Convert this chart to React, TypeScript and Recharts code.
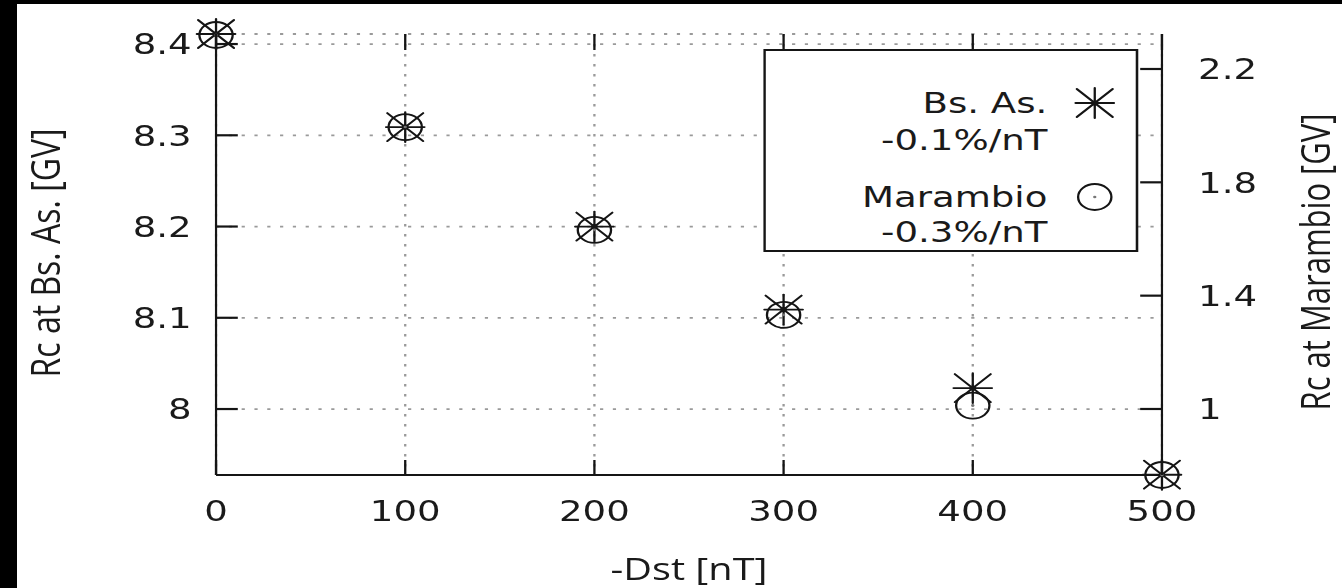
import React from "react";
import { ScatterChart, Scatter, XAxis, YAxis, CartesianGrid, Legend } from "recharts";

// values
const dst = [0, 100, 200, 300, 400, 500];
const rcBsAs = [8.411, 8.309, 8.2, 8.109, 8.023, 7.928];
const rcMarambio = [2.32, 1.995, 1.632, 1.332, 1.012, 0.767];
const xTicks = [0, 100, 200, 300, 400, 500];
const leftTicks = [8, 8.1, 8.2, 8.3, 8.4];
const rightTicks = [1, 1.4, 1.8, 2.2];
const seriesNames = ["Bs. As.", "Marambio"];
const seriesSlopes = ["-0.1%/nT", "-0.3%/nT"];

const bsData = dst.map((x, i) => ({ x, y: rcBsAs[i] }));
const marData = dst.map((x, i) => ({ x, y: rcMarambio[i] }));

// the source picture is stretched sideways
const STRETCH = 1.28;
const W = 1035;
const H = 584;
const PLOT_TOP = 30;
const INK = "#151515";
const TXT = "#1a1a1a";
const tickFont = { fontFamily: "DejaVu Sans", fontSize: 29, fill: TXT };

function StarMark({ cx, cy }: { cx: number; cy: number }) {
  const a = 15;
  const d = 14;
  return (
    <g stroke={INK} strokeWidth={1.8} strokeLinecap="round">
      <line x1={cx - a} y1={cy} x2={cx + a} y2={cy} />
      <line x1={cx} y1={cy - a} x2={cx} y2={cy + a} />
      <line x1={cx - d} y1={cy - d} x2={cx + d} y2={cy + d} />
      <line x1={cx - d} y1={cy + d} x2={cx + d} y2={cy - d} />
      <circle cx={cx} cy={cy} r={2.6} fill={INK} stroke="none" />
    </g>
  );
}

function CircleMark({ cx, cy }: { cx: number; cy: number }) {
  return (
    <g>
      <circle cx={cx} cy={cy} r={13} fill="none" stroke={INK} strokeWidth={1.8} />
      <circle cx={cx} cy={cy} r={1.3} fill="#777" />
    </g>
  );
}

// inward ticks: line drawn from the axis into the plot, label outside
const LEFT_GAP = 19;
const RIGHT_GAP = 28.2;
const BOTTOM_GAP = 25.5;

const leftTick = (p: any) => {
  const ax = p.x + LEFT_GAP;
  return (
    <g>
      <line x1={ax} y1={p.y} x2={ax + 17} y2={p.y} stroke={INK} strokeWidth={2.2} />
      <text x={p.x} y={p.y} dy="0.36em" textAnchor="end" {...tickFont}>{p.payload.value}</text>
    </g>
  );
};

const rightTick = (p: any) => {
  const ax = p.x - RIGHT_GAP;
  return (
    <g>
      <line x1={ax} y1={p.y} x2={ax - 17} y2={p.y} stroke={INK} strokeWidth={2.2} />
      <text x={p.x} y={p.y} dy="0.36em" textAnchor="start" {...tickFont}>{p.payload.value}</text>
    </g>
  );
};

// bottom ticks, mirrored on the top border as well
const bottomTick = (p: any) => {
  const ay = p.y - BOTTOM_GAP;
  return (
    <g>
      <line x1={p.x} y1={ay} x2={p.x} y2={ay - 15} stroke={INK} strokeWidth={1.8} />
      <line x1={p.x} y1={PLOT_TOP} x2={p.x} y2={PLOT_TOP + 16} stroke={INK} strokeWidth={1.8} />
      <text x={p.x} y={p.y} dy="0.71em" textAnchor="middle" {...tickFont}>{p.payload.value}</text>
    </g>
  );
};

const LW = 293;
const LH = 203;

function LegendBox(props: any) {
  const payload = props.payload && props.payload.length ? props.payload : seriesNames.map((n) => ({ value: n }));
  const rows = [
    { name: 64, slope: 101, mark: 54 },
    { name: 158, slope: 193, mark: 148 },
  ];
  return (
    <svg width={LW} height={LH} style={{ display: "block" }}>
      <rect x={1} y={1} width={LW - 2} height={LH - 2} fill="#fff" stroke={INK} strokeWidth={2} />
      {payload.map((p: any, i: number) => (
        <g key={i}>
          <text x={222} y={rows[i].name} textAnchor="end" {...tickFont}>
            {p.value}
          </text>
          <text x={222} y={rows[i].slope} textAnchor="end" {...tickFont}>
            {seriesSlopes[i]}
          </text>
          {i === 0 ? <StarMark cx={259} cy={rows[i].mark} /> : <CircleMark cx={259} cy={rows[i].mark} />}
        </g>
      ))}
    </svg>
  );
}

const leftTitle = (props: any) => {
  const vb = props.viewBox;
  const x = vb.x + 21.2;
  const y = vb.y + 219;
  return (
    <text x={x} y={y} transform={`rotate(-90 ${x} ${y})`} textAnchor="middle" dominantBaseline="central"
      fontFamily="Open Sans" fontSize={32} fill={TXT}>
      Rc at Bs. As. [GV]
    </text>
  );
};

const rightTitle = (props: any) => {
  const vb = props.viewBox;
  const x = vb.x + 119;
  const y = vb.y + 228;
  return (
    <text x={x} y={y} transform={`rotate(-90 ${x} ${y})`} textAnchor="middle" dominantBaseline="central"
      fontFamily="Open Sans" fontSize={31} fill={TXT}>
      Rc at Marambio [GV]
    </text>
  );
};

const bottomTitle = (props: any) => {
  const vb = props.viewBox;
  return (
    <text x={vb.x + vb.width / 2} y={vb.y + vb.height - 8} textAnchor="middle"
      fontFamily="Open Sans" fontSize={31} fill={TXT}>
      -Dst [nT]
    </text>
  );
};

export default function App() {
  return (
    <div style={{ position: "absolute", left: 0, top: 0, width: 1342, height: 588, background: "#000" }}>
      <div style={{ position: "absolute", left: 17, top: 4, width: 1325, height: 584, background: "#fff", overflow: "hidden" }}>
        <div style={{ width: W, height: H, transform: `scaleX(${STRETCH})`, transformOrigin: "0 0" }}>
          <ScatterChart width={W} height={H} margin={{ top: PLOT_TOP, right: 0, bottom: 0, left: 0 }}>
            <CartesianGrid xAxisId="bottom" yAxisId="left" stroke="#9a9a9a" strokeWidth={1.8} strokeDasharray="2.5 7.5" />
            <XAxis
              xAxisId="bottom"
              type="number"
              dataKey="x"
              domain={[0, 500]}
              ticks={xTicks}
              interval={0}
              height={113}
              tick={bottomTick}
              tickSize={0}
              tickMargin={BOTTOM_GAP}
              tickLine={false}
              axisLine={{ stroke: INK, strokeWidth: 2 }}
              label={bottomTitle}
            />
            <XAxis
              xAxisId="top"
              orientation="top"
              type="number"
              domain={[0, 500]}
              allowDataOverflow
              height={0}
              tick={false}
              tickLine={false}
              axisLine={{ stroke: INK, strokeWidth: 2 }}
            />
            <YAxis
              yAxisId="left"
              type="number"
              dataKey="y"
              domain={[7.9277, 8.411]}
              ticks={leftTicks}
              interval={0}
              width={155.5}
              tick={leftTick}
              tickSize={0}
              tickMargin={LEFT_GAP}
              tickLine={false}
              axisLine={{ stroke: INK, strokeWidth: 1.7 }}
              label={leftTitle}
            />
            <YAxis
              yAxisId="right"
              orientation="right"
              type="number"
              dataKey="y"
              domain={[0.767, 2.3235]}
              ticks={rightTicks}
              interval={0}
              width={140.5}
              tick={rightTick}
              tickSize={0}
              tickMargin={RIGHT_GAP}
              tickLine={false}
              axisLine={{ stroke: INK, strokeWidth: 1.7 }}
              label={rightTitle}
            />
            <Legend
              layout="vertical"
              align="center"
              verticalAlign="middle"
              content={LegendBox}
              wrapperStyle={{ left: 582.8, top: 45, width: LW, height: LH }}
            />
            <Scatter
              name={seriesNames[0]}
              data={bsData}
              xAxisId="bottom"
              yAxisId="left"
              isAnimationActive={false}
              shape={(p: any) => <StarMark cx={p.cx} cy={p.cy} />}
            />
            <Scatter
              name={seriesNames[1]}
              data={marData}
              xAxisId="bottom"
              yAxisId="right"
              isAnimationActive={false}
              shape={(p: any) => <CircleMark cx={p.cx} cy={p.cy} />}
            />
          </ScatterChart>
        </div>
      </div>
    </div>
  );
}
